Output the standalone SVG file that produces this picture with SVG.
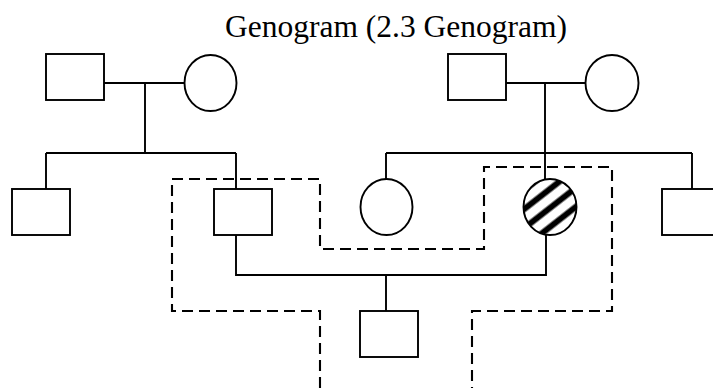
<svg xmlns="http://www.w3.org/2000/svg" width="713" height="388" viewBox="0 0 713 388">
<style>
.n{fill:#fff;stroke:#000;stroke-width:1.9}
.c{fill:none;stroke:#000;stroke-width:1.9}
.d{fill:none;stroke:#000;stroke-width:2.1;stroke-dasharray:11 6}
.t{font-family:"Liberation Serif","Times New Roman",serif;font-size:31.5px;fill:#000}
</style>
<defs>
<pattern id="hatch" patternUnits="userSpaceOnUse" width="15" height="15" patternTransform="rotate(-38)">
<rect width="15" height="15" fill="#fff"/>
<line x1="0" y1="7.5" x2="15" y2="7.5" stroke="#000" stroke-width="6"/>
</pattern>
</defs>
<rect width="713" height="388" fill="#fff"/>
<text class="t" x="396" y="37" text-anchor="middle">Genogram (2.3 Genogram)</text>
<g id="connectors">
<path class="c" d="M104,83 H184 M145,83 V153 M46,153 H236 M46,153 V189 M236,153 V189"/>
<path class="c" d="M506,83 H586 M545,83 V179 M386,153 H692 M386,153 V179 M692,153 V189"/>
<path class="c" d="M236,235 V275 H546 V235 M386,275 V311"/>
<path class="d" d="M320,388 V311 H172 V179 H320 V249 H484 V167 H612 V311 H472 V388"/>
</g>
<g id="gf1"><rect class="n" x="46" y="54" width="58" height="46"/></g>
<g id="gm1"><ellipse class="n" cx="210.5" cy="83" rx="26" ry="28"/></g>
<g id="gf2"><rect class="n" x="448" y="54" width="58" height="46"/></g>
<g id="gm2"><ellipse class="n" cx="612" cy="83" rx="26.5" ry="28"/></g>
<g id="uncle1"><rect class="n" x="12" y="189" width="58" height="46"/></g>
<g id="father"><rect class="n" x="214" y="189" width="58" height="46"/></g>
<g id="aunt"><ellipse class="n" cx="386.5" cy="207" rx="26" ry="28"/></g>
<g id="mother"><ellipse class="n" cx="550" cy="207" rx="26.5" ry="28" style="fill:url(#hatch)"/></g>
<g id="uncle2"><rect class="n" x="662" y="189" width="58" height="46"/></g>
<g id="son"><rect class="n" x="360" y="311" width="58" height="46"/></g>
</svg>
